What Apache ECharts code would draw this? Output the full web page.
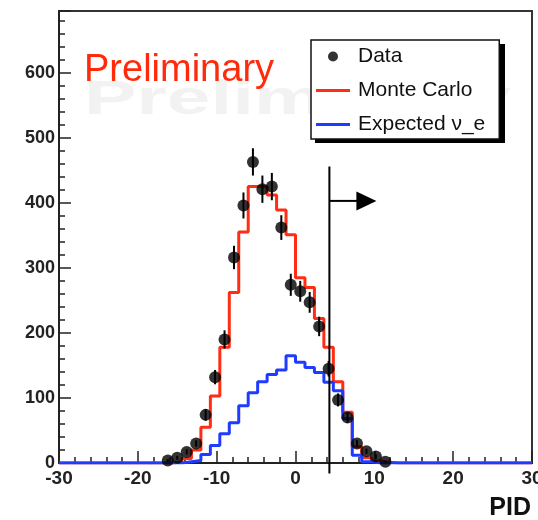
<!DOCTYPE html>
<html>
<head>
<meta charset="utf-8">
<script src="https://cdn.jsdelivr.net/npm/echarts@6/dist/echarts.min.js"></script>
<style>
  html, body { margin: 0; padding: 0; background: #ffffff; }
  #chart { width: 538px; height: 520px; }
</style>
</head>
<body>
<div id="chart"></div>
<script>
// PID histogram: 50 bins of width 1.2 covering -30 .. 30
const binStart = -30;
const binWidth = 1.2;

// Monte Carlo prediction, one count per bin
const mcCounts = [
  0, 0, 0, 0, 0, 0, 0, 0, 0, 0,
  0, 0, 2, 7, 20, 55, 103, 178, 262, 355,
  425, 425, 412, 389, 351, 285, 270, 222, 178, 125,
  78, 25, 8, 3, 1, 0, 0, 0, 0, 0,
  0, 0, 0, 0, 0, 0, 0, 0, 0, 0
];

// Expected nu_e signal, one count per bin
const nueCounts = [
  0, 0, 0, 0, 0, 0, 0, 0, 0, 0,
  0, 0, 0, 2, 4, 13, 27, 45, 62, 88,
  108, 125, 136, 143, 165, 155, 147, 139, 124, 111,
  68, 12, 2, 0, 0, 0, 0, 0, 0, 0,
  0, 0, 0, 0, 0, 0, 0, 0, 0, 0
];

// Observed data: bin centres, counts and statistical errors
const dataPID = [-16.2, -15.0, -13.8, -12.6, -11.4, -10.2, -9.0, -7.8, -6.6, -5.4, -4.2, -3.0,
                 -1.8, -0.6, 0.6, 1.8, 3.0, 4.2, 5.4, 6.6, 7.8, 9.0, 10.2, 11.4];
const dataCounts = [4, 8, 17, 30, 74, 132, 190, 316, 396, 463, 421, 425,
                    362, 274, 264, 247, 210, 145, 97, 70, 30, 18, 10, 2];
const dataErrors = [2, 3, 4, 5, 9, 11, 14, 18, 20, 21, 21, 21,
                    19, 17, 16, 16, 15, 12, 10, 8, 5, 4, 3, 1.4];

// Axis ranges
const xMin = -30, xMax = 30, xStep = 10;
const yMin = 0, yMax = 695, yStep = 100;

// Selection cut on PID, with the vertical extent of its marker line
const pidCut = 4.3;
const cutSpan = [-16, 456];
const cutArrowLevel = 403;

const FONT = '"Liberation Sans", Arial, Helvetica, sans-serif';
const INK = '#222222';
const RED = '#ff2d14';
const BLUE = '#1e3cff';

// Thin horizontal bar centred in a 34x10 box, used as the legend line icon
const LINE_ICON = 'path://M0,0L0.01,0L0.01,0.01Z M0,3.6L34,3.6L34,6.4L0,6.4Z M33.99,9.99L34,9.99L34,10Z';

// Histogram counts -> step polyline through the bin edges
function stepPoints(counts) {
  const pts = counts.map((c, i) => [Math.round((binStart + i * binWidth) * 10) / 10, c]);
  pts.push([Math.round((binStart + counts.length * binWidth) * 10) / 10, counts[counts.length - 1]]);
  return pts;
}

const chart = echarts.init(document.getElementById('chart'), null, { renderer: 'canvas' });

const option = {
  animation: false,
  backgroundColor: '#ffffff',
  grid: {
    left: 59, right: 6, top: 11, bottom: 57,
    containLabel: false,
    outerBoundsMode: 'none',
    show: true, borderColor: '#333333', borderWidth: 2, backgroundColor: 'transparent'
  },
  legend: {
    orient: 'vertical',
    left: 311, top: 40,
    padding: [6, 14, 4, 5],
    backgroundColor: '#ffffff',
    borderColor: '#111111',
    borderWidth: 1.5,
    itemWidth: 34,
    itemHeight: 10,
    itemGap: 13,
    textStyle: { fontFamily: FONT, fontSize: 21, lineHeight: 21, color: '#111111', padding: [0, 0, 0, 3] },
    data: [
      { name: 'Data', icon: 'circle' },
      { name: 'Monte Carlo', icon: LINE_ICON },
      { name: 'Expected ν_e', icon: LINE_ICON }
    ]
  },
  xAxis: {
    type: 'value',
    min: xMin, max: xMax, interval: xStep,
    axisLine: { show: true, onZero: false, lineStyle: { color: INK, width: 2 } },
    axisTick: { show: true, inside: true, length: 12, lineStyle: { color: INK, width: 1.5 } },
    minorTick: { show: true, splitNumber: 5, length: 6, lineStyle: { color: INK, width: 1.5 } },
    splitLine: { show: false },
    axisLabel: { fontFamily: FONT, fontSize: 19, fontWeight: 'bold', color: INK, margin: 6 }
  },
  yAxis: {
    type: 'value',
    min: yMin, max: yMax, interval: yStep,
    axisLine: { show: true, onZero: false, lineStyle: { color: INK, width: 2 } },
    axisTick: { show: true, inside: true, length: 12, lineStyle: { color: INK, width: 1.5 } },
    minorTick: { show: true, splitNumber: 5, length: 6, lineStyle: { color: INK, width: 1.5 } },
    splitLine: { show: false },
    axisLabel: {
      fontFamily: FONT, fontSize: 18, fontWeight: 'bold', color: INK, margin: 4,
      showMaxLabel: false,
      formatter: v => (v % 100 === 0 ? String(v) : '')
    }
  },
  graphic: [
    {
      id: 'watermark', type: 'text', z: 0, silent: true,
      x: 84, y: 100, scaleX: 1.6,
      style: {
        text: 'Preliminary', fontFamily: FONT, fontSize: 49, fontWeight: 'bold',
        fill: '#f2f2f2', stroke: null, lineWidth: 0, verticalAlign: 'middle', align: 'left'
      }
    },
    {
      id: 'prelim', type: 'text', z: 10, silent: true,
      x: 84, y: 71,
      style: {
        text: 'Preliminary', fontFamily: FONT, fontSize: 38,
        fill: '#ff2a0a', stroke: null, lineWidth: 0, verticalAlign: 'middle', align: 'left'
      }
    },
    {
      id: 'legendShadow', type: 'rect', z: 3, silent: true,
      shape: { x: 315, y: 44, width: 190, height: 99 },
      style: { fill: '#000000' }
    },
    {
      id: 'xTitle', type: 'text', z: 10, silent: true,
      x: 531, y: 508,
      style: {
        text: 'PID', fontFamily: FONT, fontSize: 25, fontWeight: 'bold',
        fill: '#111111', stroke: null, lineWidth: 0, align: 'right', verticalAlign: 'middle'
      }
    }
  ],
  series: [
    {
      name: 'Monte Carlo',
      type: 'line',
      step: 'end',
      data: stepPoints(mcCounts),
      symbol: 'none', showSymbol: false,
      lineStyle: { color: RED, width: 3 },
      itemStyle: { color: RED },
      z: 2
    },
    {
      name: 'Expected ν_e',
      type: 'line',
      step: 'end',
      data: stepPoints(nueCounts),
      symbol: 'none', showSymbol: false,
      lineStyle: { color: BLUE, width: 3 },
      itemStyle: { color: BLUE },
      z: 3
    },
    {
      name: 'errors',
      type: 'custom',
      z: 4,
      data: dataPID.map((x, i) => [x, dataCounts[i], dataErrors[i]]),
      renderItem: function (params, api) {
        const x = api.value(0), y = api.value(1), e = api.value(2);
        const lo = api.coord([x, y - e]);
        const hi = api.coord([x, y + e]);
        return {
          type: 'line',
          shape: { x1: lo[0], y1: lo[1], x2: hi[0], y2: hi[1] },
          style: { stroke: '#000000', lineWidth: 2 }
        };
      }
    },
    {
      name: 'Data',
      type: 'scatter',
      data: dataPID.map((x, i) => [x, dataCounts[i]]),
      symbol: 'circle',
      symbolSize: 12,
      itemStyle: { color: '#000000' },
      z: 5
    },
    {
      // PID cut marker: vertical line plus arrow towards the accepted side
      name: 'cut',
      type: 'custom',
      z: 6,
      clip: false,
      silent: true,
      data: [[pidCut, cutSpan[0], cutSpan[1], cutArrowLevel]],
      renderItem: function (params, api) {
        const lo = api.coord([api.value(0), api.value(1)]);
        const hi = api.coord([api.value(0), api.value(2)]);
        const ay = api.coord([api.value(0), api.value(3)])[1];
        const cx = lo[0];
        return {
          type: 'group',
          children: [
            { type: 'line', shape: { x1: cx, y1: lo[1], x2: cx, y2: hi[1] },
              style: { stroke: '#000000', lineWidth: 2 } },
            { type: 'line', shape: { x1: cx, y1: ay, x2: cx + 29, y2: ay },
              style: { stroke: '#000000', lineWidth: 2 } },
            { type: 'polygon',
              shape: { points: [[cx + 27, ay - 9.5], [cx + 47, ay], [cx + 27, ay + 9.5]] },
              style: { fill: '#000000' } }
          ]
        };
      }
    }
  ]
};

chart.setOption(option);
</script>
</body>
</html>
